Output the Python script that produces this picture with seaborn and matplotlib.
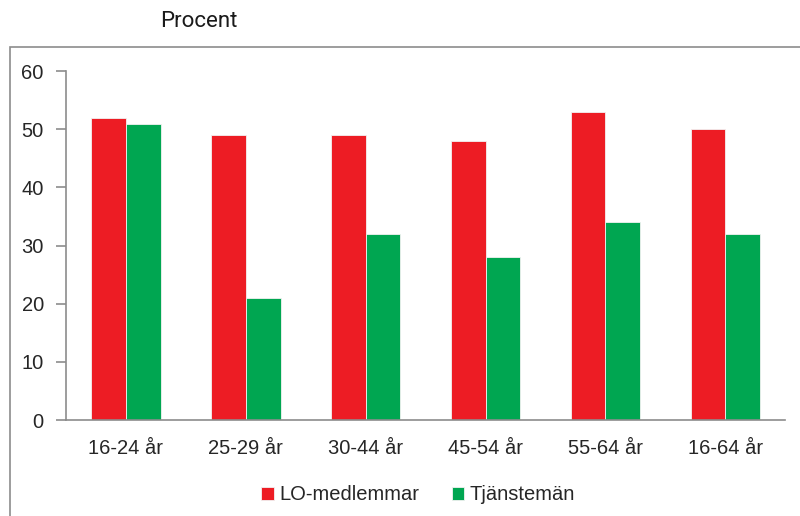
import matplotlib
matplotlib.use("Agg")
import matplotlib.pyplot as plt
from matplotlib.patches import Rectangle
import seaborn as sns
import pandas as pd

# --- Data ---
age_groups = ["16-24 år", "25-29 år", "30-44 år", "45-54 år", "55-64 år", "16-64 år"]
lo_members = [52, 49, 49, 48, 53, 50]
white_collar = [51, 21, 32, 28, 34, 32]
series_names = ["LO-medlemmar", "Tjänstemän"]
colors = ["#ED1C24", "#00A651"]

df = pd.DataFrame({
    "group": age_groups * 2,
    "value": lo_members + white_collar,
    "series": [series_names[0]] * len(age_groups) + [series_names[1]] * len(age_groups),
})

sns.set_style("white")
plt.rcParams["font.family"] = ["Liberation Sans", "DejaVu Sans"]

fig = plt.figure(figsize=(8, 5.16), dpi=100)
ax = fig.add_axes([0.0825, 0.186, 0.899, 0.676])

sns.barplot(data=df, x="group", y="value", hue="series", palette=colors,
            width=0.58, saturation=1, linewidth=0.6, edgecolor="#f2f2f2",
            ax=ax, legend=True)

ax.set_ylim(0, 60)
ax.set_yticks(range(0, 61, 10))
ax.set_xlabel("")
ax.set_ylabel("")
for side in ["top", "right"]:
    ax.spines[side].set_visible(False)
for side in ["left", "bottom"]:
    ax.spines[side].set_color("#8c8c8c")
    ax.spines[side].set_linewidth(1.2)
ax.tick_params(axis="y", which="major", left=True, length=7, width=1.2,
               color="#8c8c8c", labelsize=14.5, pad=9)
ax.tick_params(axis="x", bottom=False, labelsize=14.5, pad=10)

leg = ax.legend(loc="upper center", bbox_to_anchor=(0.49, -0.135), ncol=2,
                frameon=False, fontsize=14.5, handlelength=0.6, handleheight=0.6,
                handletextpad=0.3, columnspacing=1.6)

# outer frame, partly cut off like the original
fig.add_artist(Rectangle((0.012, -0.2), 1.2, 1.109, transform=fig.transFigure,
                         fill=False, edgecolor="#8c8c8c", linewidth=1.2, clip_on=False))

fig.text(0.2, 0.958, "Procent", fontsize=16, family=["Roboto", "DejaVu Sans"],
         va="center", ha="left", color="#1a1a1a")

plt.savefig("out.png", dpi=100)
